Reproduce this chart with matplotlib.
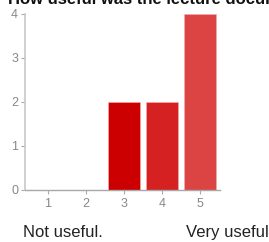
import matplotlib
matplotlib.use('Agg')
import matplotlib.pyplot as plt

plt.rcParams['font.family'] = ['Liberation Sans', 'DejaVu Sans']

# Data
ratings = [1, 2, 3, 4, 5]
counts = [0, 0, 2, 2, 4]
bar_colors = ['#cc0000', '#cc0000', '#cc0000', '#d52121', '#dc4343']
y_ticks = [0, 1, 2, 3, 4]

fig = plt.figure(figsize=(2.69, 2.42), dpi=100)
ax = fig.add_axes([25 / 269, 1 - 190 / 242, (220 - 25) / 269, (190 - 14) / 242])

ax.bar(ratings, counts, width=0.84, color=bar_colors, edgecolor='#f2b0b0', linewidth=0.4, zorder=2)

ax.set_xlim(0.395, 5.53)
ax.set_ylim(0, 4)
ax.set_xticks(ratings)
ax.set_yticks(y_ticks)

for s in ['top', 'right']:
    ax.spines[s].set_visible(False)
ax.spines['left'].set_color('#c8c8c8')
ax.spines['left'].set_linewidth(1.2)
ax.spines['bottom'].set_color('#a8a8a8')
ax.spines['bottom'].set_linewidth(1.0)

ax.tick_params(axis='both', colors='#aaaaaa', labelcolor='#888888', labelsize=9, length=3, width=0.8)
ax.tick_params(axis='y', pad=2)
ax.tick_params(axis='x', pad=3)

# title is clipped by the image edge in the original
fig.text(8 / 269, 1 - 4 / 242, 'How useful was the lecture documentation?', fontsize=12,
         fontweight='bold', color='#111111', ha='left', va='baseline')
fig.text(23 / 269, 1 - 237 / 242, 'Not useful.', fontsize=12, color='#222222', ha='left', va='baseline')
fig.text(186 / 269, 1 - 237 / 242, 'Very useful', fontsize=12, color='#222222', ha='left', va='baseline')

fig.savefig('out.png', dpi=100)
